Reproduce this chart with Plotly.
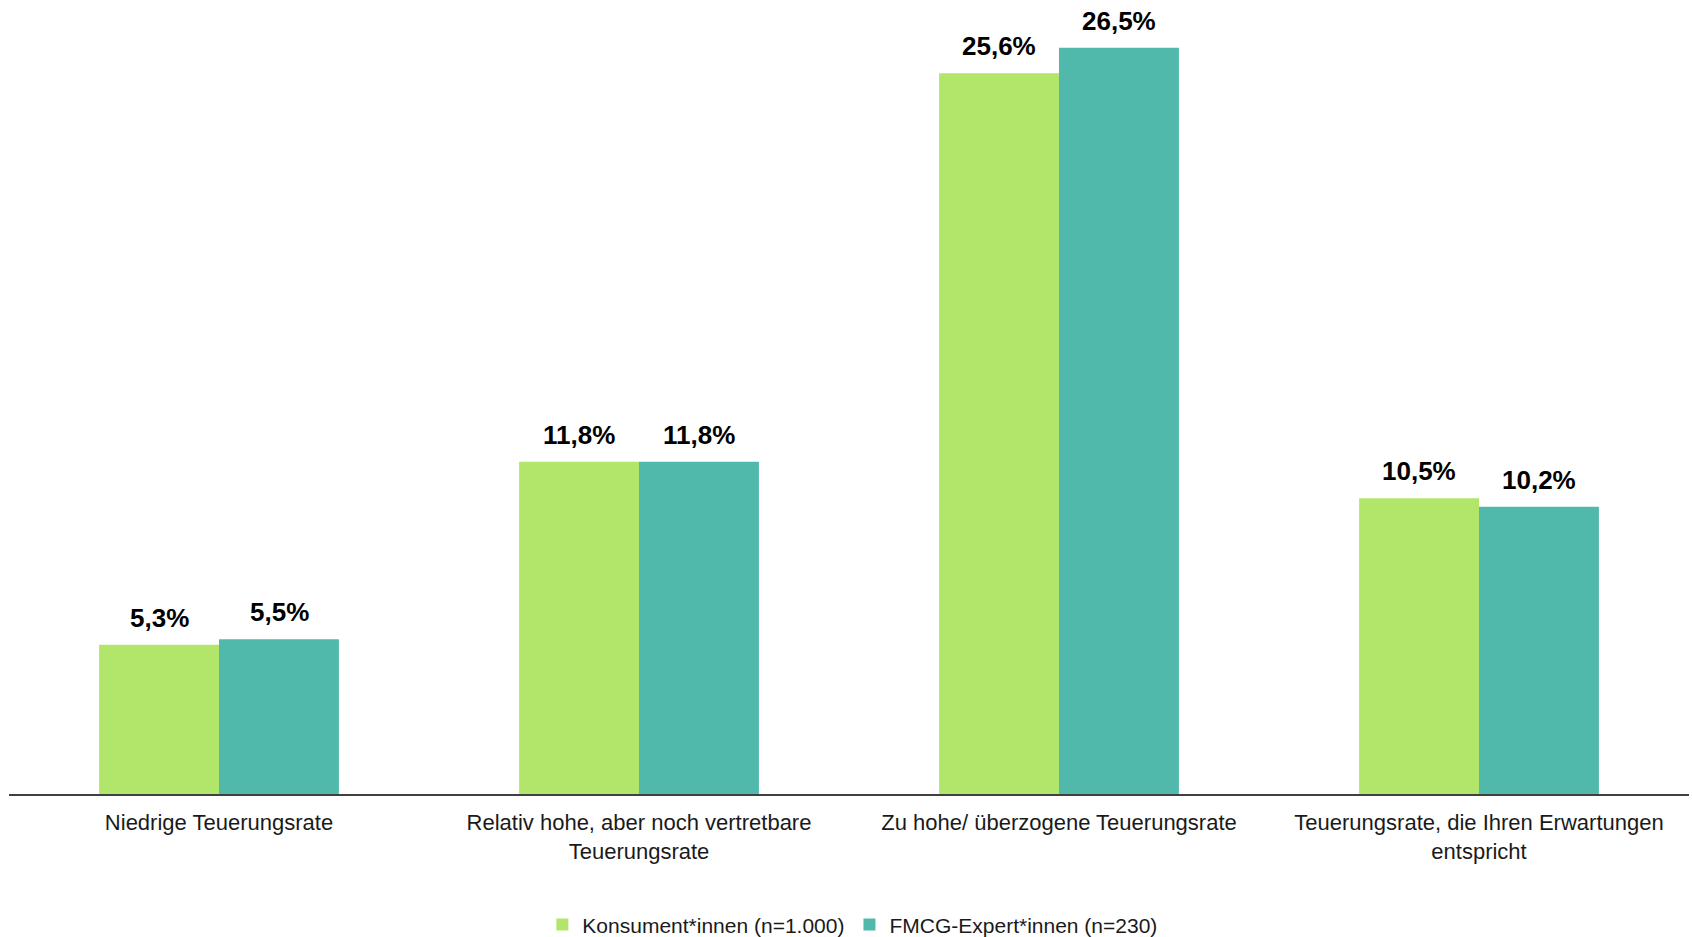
import plotly.graph_objects as go

# Survey answers (x categories) and their multi-line tick labels
categories = [
    "Niedrige Teuerungsrate",
    "Relativ hohe, aber noch vertretbare Teuerungsrate",
    "Zu hohe/ überzogene Teuerungsrate",
    "Teuerungsrate, die Ihren Erwartungen entspricht",
]
tick_labels = [
    "Niedrige Teuerungsrate",
    "Relativ hohe, aber noch vertretbare<br>Teuerungsrate",
    "Zu hohe/ überzogene Teuerungsrate",
    "Teuerungsrate, die Ihren Erwartungen<br>entspricht",
]

# Shares in percent per respondent group
series_names = ["Konsument*innen (n=1.000)", "FMCG-Expert*innen (n=230)"]
konsumenten = [5.3, 11.8, 25.6, 10.5]
experten = [5.5, 11.8, 26.5, 10.2]

colors = ["#B2E66A", "#50B9AB"]
FONT = "Arial, 'Liberation Sans', sans-serif"

fig = go.Figure()
for name, vals, col in zip(series_names, [konsumenten, experten], colors):
    fig.add_trace(go.Bar(
        x=categories, y=vals, name=name,
        marker=dict(color=col, line=dict(width=0)),
        hoverinfo="skip",
    ))

# Value labels above each bar, shifted onto the matching bar of the group
def fmt(v):
    return f"{v:.1f}".replace(".", ",") + "%"

annotations = []
for shift, vals in zip([-60, 60], [konsumenten, experten]):
    for cat, v in zip(categories, vals):
        annotations.append(dict(
            x=cat, y=v, xref="x", yref="y",
            text=fmt(v), showarrow=False,
            xanchor="center", yanchor="bottom",
            xshift=shift, yshift=10,
            font=dict(family=FONT, size=26, color="#000000", weight="bold"),
        ))

fig.update_layout(
    width=1692, height=937,
    margin=dict(l=9, r=3, t=0, b=143, autoexpand=False),
    paper_bgcolor="white", plot_bgcolor="white",
    barmode="group", bargap=0.429, bargroupgap=0,
    font=dict(family=FONT, size=21, color="#1a1a1a"),
    showlegend=True,
    legend=dict(
        orientation="h", x=0.502, xanchor="center",
        yref="container", y=0.013, yanchor="middle",
        font=dict(family=FONT, size=21, color="#1a1a1a"),
        itemwidth=30, tracegroupgap=0,
    ),
    annotations=annotations,
)
fig.update_xaxes(
    tickmode="array", tickvals=categories, ticktext=tick_labels,
    showline=True, linecolor="#404040", linewidth=1.5,
    ticks="", showgrid=False, zeroline=False,
    tickfont=dict(family=FONT, size=22, color="#1a1a1a"),
    ticklabelstandoff=8,
)
fig.update_yaxes(
    range=[0, 28.2], visible=False, showgrid=False, zeroline=False,
)

fig.write_html("out.html")
